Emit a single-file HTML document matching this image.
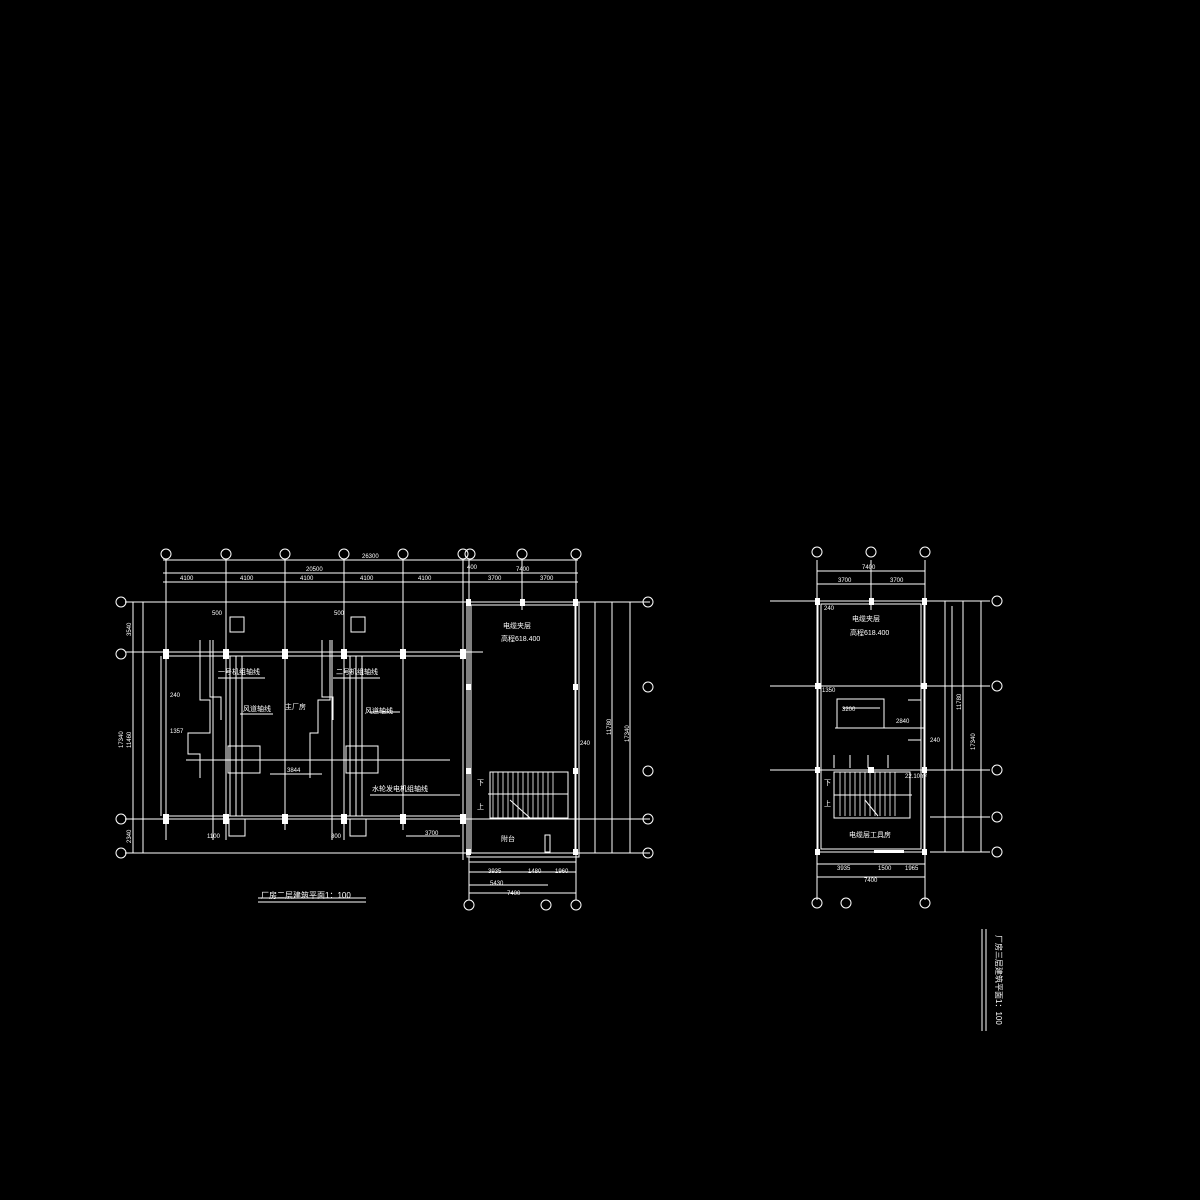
<!DOCTYPE html>
<html><head><meta charset="utf-8"><style>
html,body{margin:0;padding:0;background:#000;width:1200px;height:1200px;overflow:hidden}
svg{display:block}
text{font-family:"Liberation Sans","Noto Sans CJK SC",sans-serif;fill:#fff}
</style></head><body>
<svg width="1200" height="1200" viewBox="0 0 1200 1200" xmlns="http://www.w3.org/2000/svg">
<g stroke="#fff" stroke-width="1" fill="none">
<line x1="166" y1="560" x2="166" y2="840"/>
<line x1="226" y1="560" x2="226" y2="840"/>
<line x1="285" y1="560" x2="285" y2="830"/>
<line x1="344" y1="560" x2="344" y2="840"/>
<line x1="403" y1="560" x2="403" y2="830"/>
<line x1="463" y1="560" x2="463" y2="860"/>
<line x1="469" y1="560" x2="469" y2="900"/>
<line x1="522" y1="560" x2="522" y2="610"/>
<line x1="576" y1="560" x2="576" y2="900"/>
<line x1="163" y1="560" x2="578" y2="560"/>
<line x1="163" y1="573" x2="578" y2="573"/>
<line x1="163" y1="582" x2="578" y2="582"/>
<line x1="125" y1="602" x2="650" y2="602"/>
<line x1="125" y1="652" x2="483" y2="652"/>
<line x1="166" y1="656" x2="463" y2="656"/>
<line x1="125" y1="819" x2="650" y2="819"/>
<line x1="166" y1="816" x2="463" y2="816"/>
<line x1="125" y1="853" x2="650" y2="853"/>
<line x1="161" y1="656" x2="161" y2="816"/>
<line x1="143" y1="602" x2="143" y2="853"/>
<line x1="133" y1="602" x2="133" y2="853"/>
<rect x="467" y="602" width="112" height="255"/>
<rect x="471" y="605" width="104" height="248"/>
<line x1="595" y1="602" x2="595" y2="853"/>
<line x1="612" y1="602" x2="612" y2="853"/>
<line x1="630" y1="602" x2="630" y2="853"/>
<line x1="469" y1="862" x2="576" y2="862"/>
<line x1="469" y1="872" x2="576" y2="872"/>
<line x1="469" y1="885" x2="548" y2="885"/>
<line x1="469" y1="893" x2="576" y2="893"/>
<rect x="230" y="617" width="14" height="15"/>
<rect x="351" y="617" width="14" height="15"/>
<rect x="228" y="746" width="32" height="27"/>
<rect x="346" y="746" width="32" height="27"/>
<line x1="186" y1="760" x2="450" y2="760"/>
<polyline points="200,640 200,700 210,700 210,733 188,733 188,754 200,754 200,778"/>
<polyline points="210,640 210,697 221,697 221,720"/>
<polyline points="322,640 322,697 333,697 333,720"/>
<polyline points="330,640 330,700 318,700 318,733 310,733 310,778"/>
<line x1="213" y1="640" x2="213" y2="840"/>
<line x1="230" y1="656" x2="230" y2="816"/>
<line x1="236" y1="656" x2="236" y2="816"/>
<line x1="242" y1="656" x2="242" y2="816"/>
<line x1="332" y1="640" x2="332" y2="840"/>
<line x1="350" y1="656" x2="350" y2="816"/>
<line x1="356" y1="656" x2="356" y2="816"/>
<line x1="362" y1="656" x2="362" y2="816"/>
<rect x="229" y="819" width="16" height="17"/>
<rect x="350" y="819" width="16" height="17"/>
<line x1="218" y1="678" x2="265" y2="678"/>
<line x1="333" y1="678" x2="380" y2="678"/>
<line x1="240" y1="714" x2="273" y2="714"/>
<line x1="370" y1="712" x2="400" y2="712"/>
<line x1="370" y1="795" x2="460" y2="795"/>
<line x1="406" y1="836" x2="460" y2="836"/>
<line x1="270" y1="774" x2="322" y2="774"/>
<rect x="490" y="772" width="78" height="46"/>
<line x1="488" y1="794" x2="568" y2="794"/>
<g stroke-width="0.8">
<line x1="493" y1="772" x2="493" y2="818"/><line x1="498" y1="772" x2="498" y2="818"/>
<line x1="503" y1="772" x2="503" y2="818"/><line x1="508" y1="772" x2="508" y2="818"/>
<line x1="513" y1="772" x2="513" y2="818"/><line x1="518" y1="772" x2="518" y2="818"/>
<line x1="523" y1="772" x2="523" y2="818"/><line x1="528" y1="772" x2="528" y2="818"/>
<line x1="533" y1="772" x2="533" y2="818"/><line x1="538" y1="772" x2="538" y2="818"/>
<line x1="543" y1="772" x2="543" y2="818"/><line x1="548" y1="772" x2="548" y2="818"/>
<line x1="553" y1="772" x2="553" y2="818"/>
</g>
<line x1="510" y1="800" x2="530" y2="818"/>
<rect x="545" y="835" width="5" height="17"/>
<line x1="258" y1="898" x2="366" y2="898"/>
<line x1="258" y1="902" x2="366" y2="902"/>

<line x1="817" y1="560" x2="817" y2="900"/>
<line x1="871" y1="560" x2="871" y2="610"/>
<line x1="925" y1="560" x2="925" y2="900"/>
<line x1="817" y1="571" x2="925" y2="571"/>
<line x1="817" y1="584" x2="925" y2="584"/>
<line x1="770" y1="601" x2="990" y2="601"/>
<line x1="770" y1="686" x2="990" y2="686"/>
<line x1="770" y1="770" x2="990" y2="770"/>
<line x1="930" y1="817" x2="990" y2="817"/>
<line x1="930" y1="852" x2="990" y2="852"/>
<rect x="818" y="601" width="106" height="251"/>
<rect x="821" y="604" width="100" height="245"/>
<line x1="945" y1="601" x2="945" y2="852"/>
<line x1="952" y1="606" x2="952" y2="770"/>
<line x1="963" y1="601" x2="963" y2="852"/>
<line x1="981" y1="601" x2="981" y2="852"/>
<line x1="817" y1="864" x2="925" y2="864"/>
<line x1="817" y1="877" x2="925" y2="877"/>
<rect x="837" y="699" width="47" height="29"/>
<line x1="843" y1="708" x2="880" y2="708"/>
<line x1="835" y1="728" x2="925" y2="728"/>
<line x1="834" y1="755" x2="834" y2="768"/><line x1="850" y1="755" x2="850" y2="768"/>
<line x1="868" y1="755" x2="868" y2="768"/><line x1="888" y1="755" x2="888" y2="768"/>
<line x1="908" y1="700" x2="921" y2="700"/><line x1="908" y1="740" x2="921" y2="740"/>
<rect x="834" y="772" width="76" height="46"/>
<line x1="834" y1="795" x2="912" y2="795"/>
<g stroke-width="0.8">
<line x1="840" y1="772" x2="840" y2="816"/><line x1="845" y1="772" x2="845" y2="816"/>
<line x1="850" y1="772" x2="850" y2="816"/><line x1="855" y1="772" x2="855" y2="816"/>
<line x1="860" y1="772" x2="860" y2="816"/><line x1="865" y1="772" x2="865" y2="816"/>
<line x1="870" y1="772" x2="870" y2="816"/><line x1="875" y1="772" x2="875" y2="816"/>
<line x1="880" y1="772" x2="880" y2="816"/><line x1="885" y1="772" x2="885" y2="816"/>
<line x1="890" y1="772" x2="890" y2="816"/><line x1="895" y1="772" x2="895" y2="816"/>
</g>
<line x1="865" y1="800" x2="878" y2="816"/>
<line x1="982" y1="929" x2="982" y2="1031"/>
<line x1="986" y1="929" x2="986" y2="1031"/>
<g stroke-width="1">
<circle cx="166" cy="554" r="5"/><circle cx="226" cy="554" r="5"/><circle cx="285" cy="554" r="5"/>
<circle cx="344" cy="554" r="5"/><circle cx="403" cy="554" r="5"/><circle cx="463" cy="554" r="5"/>
<circle cx="470" cy="554" r="5"/><circle cx="522" cy="554" r="5"/><circle cx="576" cy="554" r="5"/>
<circle cx="121" cy="602" r="5"/><circle cx="121" cy="654" r="5"/><circle cx="121" cy="819" r="5"/><circle cx="121" cy="853" r="5"/>
<circle cx="648" cy="602" r="5"/><circle cx="648" cy="687" r="5"/><circle cx="648" cy="771" r="5"/><circle cx="648" cy="819" r="5"/><circle cx="648" cy="853" r="5"/>
<circle cx="469" cy="905" r="5"/><circle cx="546" cy="905" r="5"/><circle cx="576" cy="905" r="5"/>
<circle cx="817" cy="552" r="5"/><circle cx="871" cy="552" r="5"/><circle cx="925" cy="552" r="5"/>
<circle cx="997" cy="601" r="5"/><circle cx="997" cy="686" r="5"/><circle cx="997" cy="770" r="5"/><circle cx="997" cy="817" r="5"/><circle cx="997" cy="852" r="5"/>
<circle cx="817" cy="903" r="5"/><circle cx="846" cy="903" r="5"/><circle cx="925" cy="903" r="5"/>
</g>
</g>
<g fill="#fff">
<rect x="163" y="649" width="6" height="10"/><rect x="223" y="649" width="6" height="10"/><rect x="282" y="649" width="6" height="10"/>
<rect x="341" y="649" width="6" height="10"/><rect x="400" y="649" width="6" height="10"/><rect x="460" y="649" width="6" height="10"/>
<rect x="163" y="814" width="6" height="10"/><rect x="223" y="814" width="6" height="10"/><rect x="282" y="814" width="6" height="10"/>
<rect x="341" y="814" width="6" height="10"/><rect x="400" y="814" width="6" height="10"/><rect x="460" y="814" width="6" height="10"/>
<rect x="466" y="599" width="5" height="7"/><rect x="520" y="599" width="5" height="7"/><rect x="573" y="599" width="5" height="7"/>
<rect x="466" y="684" width="5" height="6"/><rect x="573" y="684" width="5" height="6"/>
<rect x="466" y="768" width="5" height="6"/><rect x="573" y="768" width="5" height="6"/>
<rect x="466" y="849" width="5" height="6"/><rect x="573" y="849" width="5" height="6"/>
<rect x="815" y="598" width="5" height="7"/><rect x="869" y="598" width="5" height="7"/><rect x="922" y="598" width="5" height="7"/>
<rect x="815" y="683" width="6" height="6"/><rect x="921" y="683" width="6" height="6"/>
<rect x="815" y="767" width="5" height="6"/><rect x="868" y="767" width="6" height="6"/><rect x="922" y="767" width="5" height="6"/>
<rect x="815" y="849" width="5" height="6"/><rect x="922" y="849" width="5" height="6"/>
<rect x="874" y="850" width="30" height="3"/>
</g>
<g font-size="6">
<text x="362" y="558">26300</text><text x="306" y="571">20500</text><text x="516" y="571">7400</text>
<text x="180" y="580">4100</text><text x="240" y="580">4100</text><text x="300" y="580">4100</text><text x="360" y="580">4100</text><text x="418" y="580">4100</text>
<text x="488" y="580">3700</text><text x="540" y="580">3700</text><text x="467" y="569">400</text>
<text x="212" y="615">500</text><text x="334" y="615">500</text>
<text x="170" y="697">240</text><text x="170" y="733">1357</text><text x="287" y="772">3844</text>
<text x="207" y="838">1100</text><text x="331" y="838">800</text><text x="425" y="835">3700</text><text x="580" y="745">240</text>
<text x="488" y="873">3935</text><text x="528" y="873">1480</text><text x="555" y="873">1960</text>
<text x="490" y="885">5430</text><text x="507" y="895">7400</text>
<text x="503" y="628" font-size="7">电缆夹层</text><text x="501" y="641" font-size="7">高程618.400</text>
<text x="218" y="674" font-size="7">一号机组轴线</text><text x="336" y="674" font-size="7">二号机组轴线</text>
<text x="243" y="711" font-size="7">风道轴线</text><text x="285" y="709" font-size="7">主厂房</text><text x="365" y="713" font-size="7">风道轴线</text>
<text x="372" y="791" font-size="7">水轮发电机组轴线</text><text x="501" y="841" font-size="7">附台</text>
<text x="477" y="785" font-size="7">下</text><text x="477" y="809" font-size="7">上</text>
<text x="261" y="898" font-size="8">厂房二层建筑平面1：100</text>
<text x="862" y="569">7400</text><text x="838" y="582">3700</text><text x="890" y="582">3700</text>
<text x="824" y="610">240</text><text x="852" y="621" font-size="7">电缆夹层</text><text x="850" y="635" font-size="7">高程618.400</text>
<text x="822" y="692">1350</text><text x="842" y="711">3200</text><text x="896" y="723">2840</text><text x="930" y="742">240</text>
<text x="849" y="837" font-size="7">电缆层工具房</text><text x="905" y="778">22.10m²</text>
<text x="837" y="870">3935</text><text x="878" y="870">1500</text><text x="905" y="870">1965</text><text x="864" y="882">7400</text>
<text x="824" y="785" font-size="7">下</text><text x="824" y="806" font-size="7">上</text>
</g>
<g font-size="6">
<text transform="translate(131,636) rotate(-90)">3540</text><text transform="translate(131,748) rotate(-90)">11460</text>
<text transform="translate(123,748) rotate(-90)">17340</text><text transform="translate(131,843) rotate(-90)">2340</text>
<text transform="translate(629,742) rotate(-90)">17340</text><text transform="translate(611,735) rotate(-90)">11780</text>
<text transform="translate(975,750) rotate(-90)">17340</text><text transform="translate(961,710) rotate(-90)">11780</text>
<text transform="translate(996,935) rotate(90)" font-size="8">厂房三层建筑平面1：100</text>
</g>
</svg>
</body></html>
